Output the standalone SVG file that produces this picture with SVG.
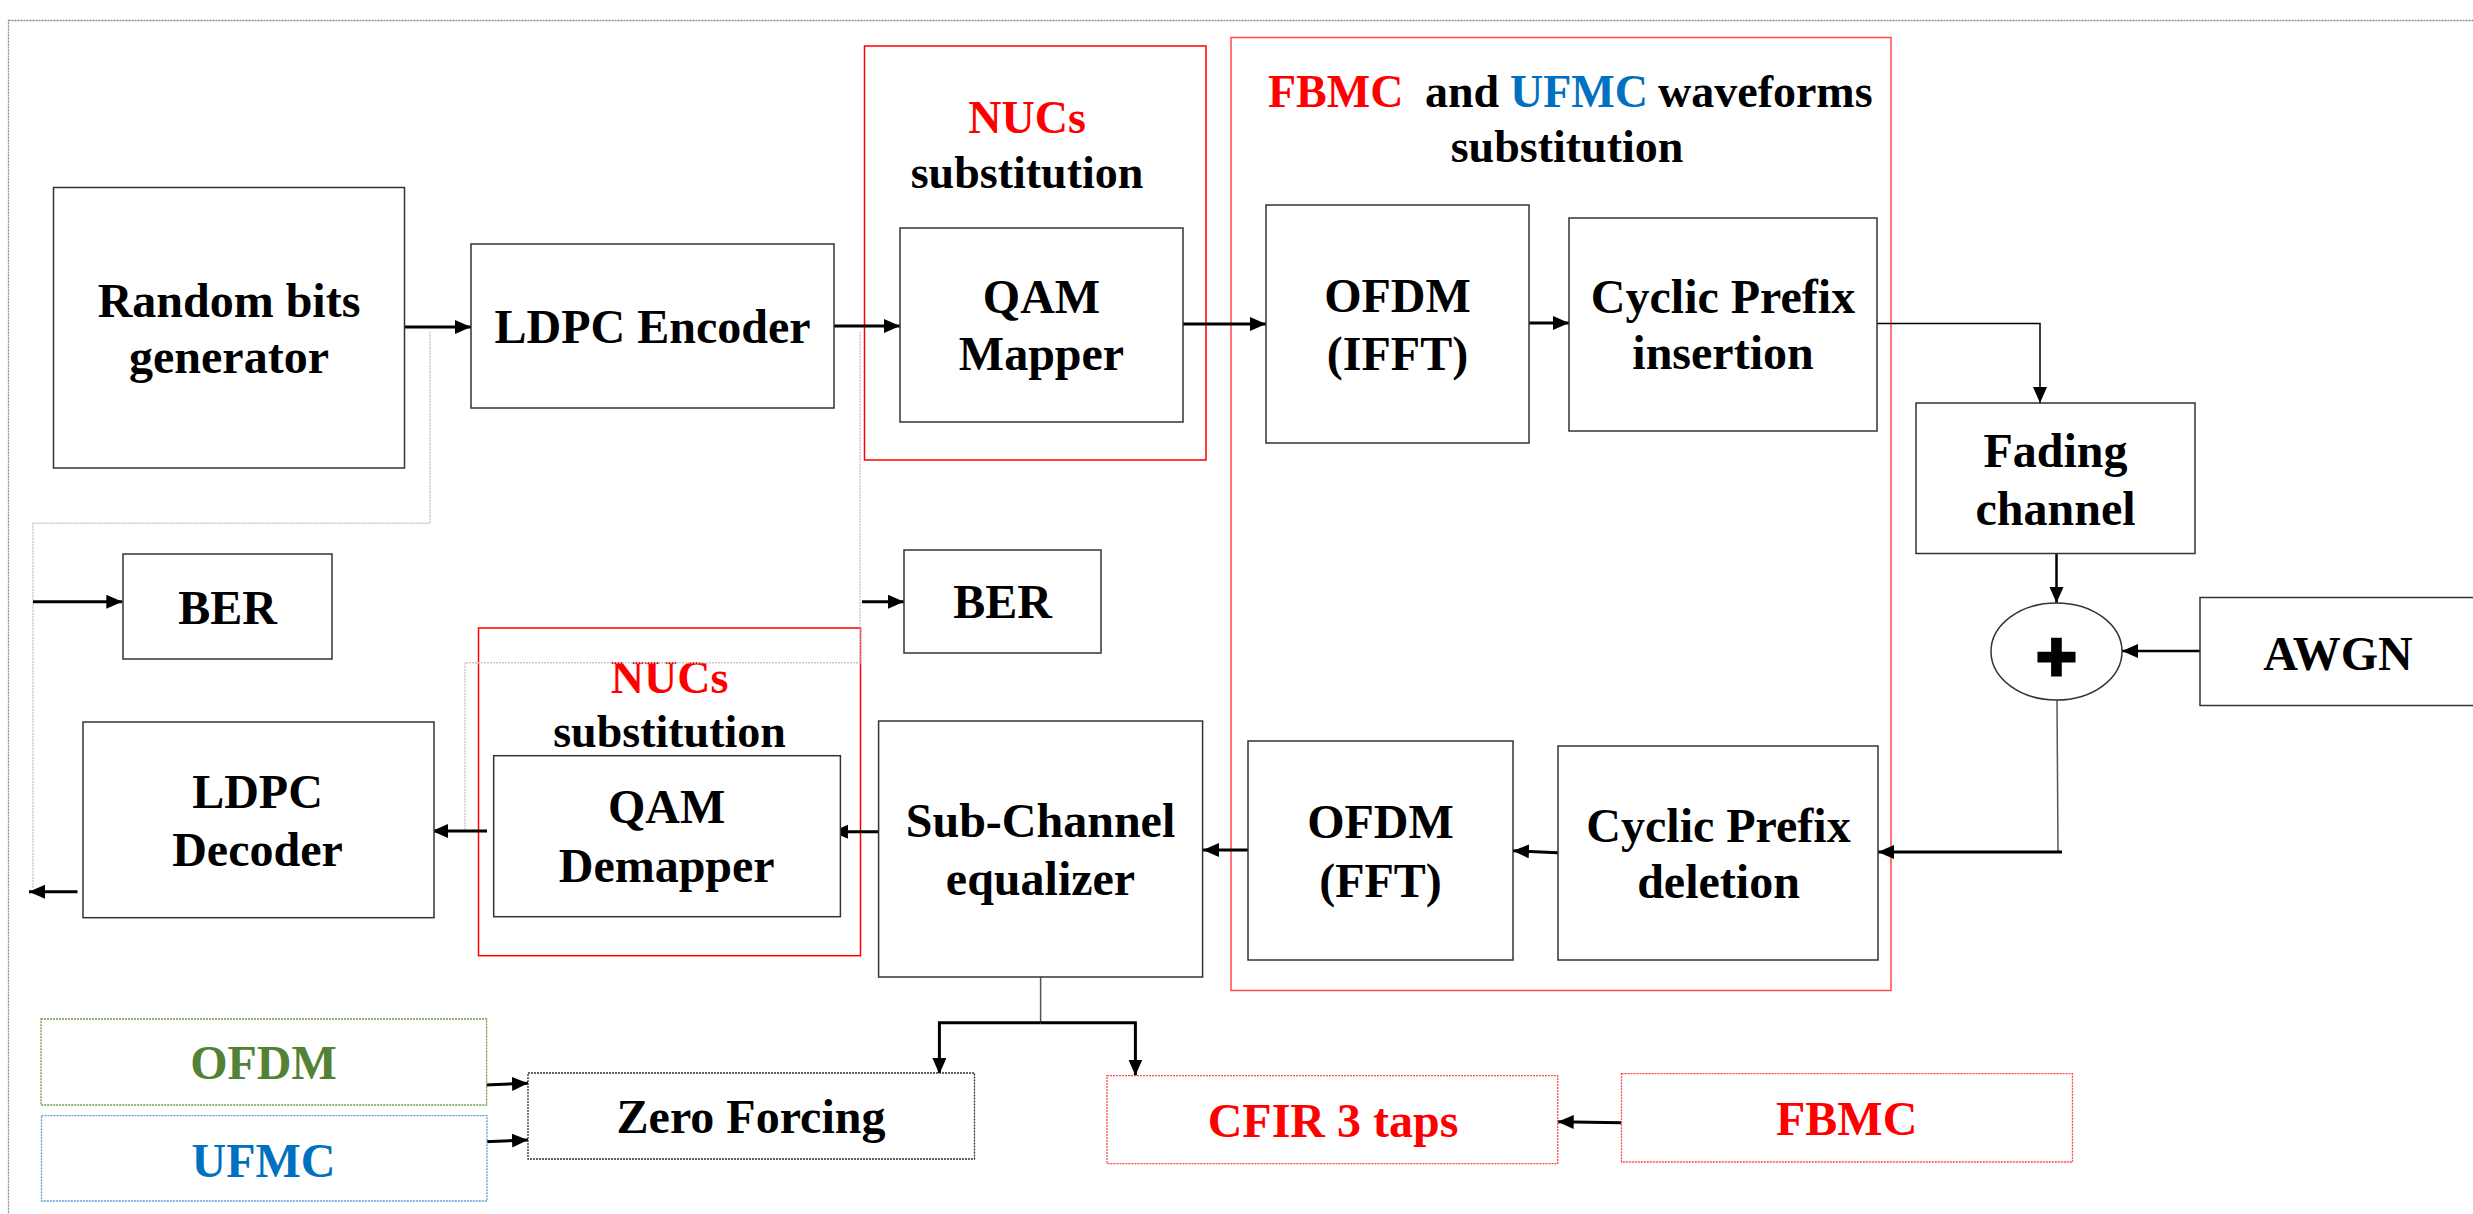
<svg xmlns="http://www.w3.org/2000/svg" width="2473" height="1214" viewBox="0 0 2473 1214">
  <defs>
    <style>
      .box { fill: #ffffff; stroke: #333333; stroke-width: 1.5; }
      .grp { fill: none; stroke: #ff0000; stroke-width: 1.5; }
      .grp-light { fill: none; stroke: #ff4a4a; stroke-width: 1.5; }
      .dot { fill: #ffffff; stroke-width: 1.3; stroke-dasharray: 2 1; }
      .lbl { font-family: "Liberation Serif", "Times New Roman", serif; font-weight: bold; font-size: 48px; text-anchor: middle; fill: #000000; }
      .head { font-family: "Liberation Serif", "Times New Roman", serif; font-weight: bold; font-size: 46px; fill: #000000; }
      .mid { text-anchor: middle; }
      .red { fill: #ff0000; }
      .blue { fill: #0070c0; }
      .green { fill: #538135; }
      .wire { fill: none; stroke: #000000; stroke-width: 3; marker-end: url(#head); }
      .thin { fill: none; stroke: #000000; stroke-width: 1.5; }
      .feed { fill: none; stroke: #c9c9c9; stroke-width: 1.5; stroke-dasharray: 2 1; }
    </style>
    <marker id="head" markerUnits="userSpaceOnUse" markerWidth="17" markerHeight="15" refX="16" refY="7" orient="auto">
      <path d="M0,0 L16,7 L0,14 z" fill="#000000"/>
    </marker>
  </defs>

  <rect width="2473" height="1214" fill="#ffffff"/>

  <!-- page frame -->
  <rect x="8.5" y="20.5" width="3000" height="2000" fill="none" stroke="#8a8a8a" stroke-width="1.3" stroke-dasharray="2 1"/>

  <!-- substitution frames -->
  <g id="nucs-tx">
    <rect class="grp" x="864.5" y="46" width="341.5" height="414"/>
    <text class="head mid red" x="1027" y="133">NUCs</text>
    <text class="head mid" x="1027" y="188">substitution</text>
  </g>
  <g id="waveforms">
    <rect class="grp-light" x="1231" y="37.5" width="660" height="953"/>
    <text class="head"><tspan class="red" x="1268" y="107">FBMC</tspan><tspan x="1425" y="107">and</tspan><tspan class="blue" x="1510" y="107">UFMC</tspan><tspan x="1658" y="107">waveforms</tspan></text>
    <text class="head mid" x="1567" y="162">substitution</text>
  </g>
  <g id="nucs-rx">
    <rect class="grp" x="478.5" y="628" width="382" height="327.7"/>
    <text class="head mid red" x="669.5" y="693">NUCs</text>
    <text class="head mid" x="669.5" y="747">substitution</text>
  </g>

  <!-- connectors -->
  <g id="connectors">
    <path class="feed" d="M430,331.7 V523.3 H33 V888"/>
    <path class="feed" d="M860,331.7 V662.7 H465 V830"/>

    <path class="wire" d="M404,327 H471"/>
    <path class="wire" d="M834,326 H900"/>
    <path class="wire" d="M1183,324 H1266"/>
    <path class="wire" d="M1529,323 H1569"/>
    <path class="thin" style="marker-end:url(#head)" d="M1877,323.5 H2040 V403"/>
    <path class="wire" style="stroke-width:2.5" d="M2056.5,554 V603"/>
    <path class="wire" style="stroke-width:2.5" d="M2200,651 H2122"/>
    <path class="thin" style="stroke:#555555" d="M2057,700 L2058,852"/>
    <path class="wire" d="M2062,852 H1878"/>
    <path class="wire" d="M1558,852.7 L1513,850.7"/>
    <path class="wire" d="M1248,850 H1203"/>
    <path class="wire" d="M888,831.7 H832"/>
    <path class="wire" d="M487,831 H432"/>
    <path class="wire" d="M77.5,891.7 H29"/>
    <path class="wire" d="M33,601.7 H122.3"/>
    <path class="wire" d="M862,601.7 H904"/>

    <path class="thin" style="stroke:#555555" d="M1040.6,977 V1022.7"/>
    <path class="wire" d="M1040.6,1022.7 H939.4 V1074"/>
    <path class="wire" d="M1040.6,1022.7 H1135.4 V1075.5"/>
    <path class="wire" d="M484.7,1085 L528,1083.3"/>
    <path class="wire" d="M484.7,1141.7 L528,1140"/>
    <path class="wire" d="M1621.5,1122.7 L1557.7,1121.7"/>
  </g>

  <!-- transmitter chain -->
  <g id="random-bits">
    <rect class="box" x="53.5" y="187.5" width="351" height="280.5"/>
    <text class="lbl" x="229" y="317">Random bits</text>
    <text class="lbl" x="229" y="373">generator</text>
  </g>
  <g id="ldpc-encoder">
    <rect class="box" x="471" y="244" width="363" height="164"/>
    <text class="lbl" x="652.5" y="343">LDPC Encoder</text>
  </g>
  <g id="qam-mapper">
    <rect class="box" x="900" y="228" width="283" height="194"/>
    <text class="lbl" x="1041.5" y="313">QAM</text>
    <text class="lbl" x="1041.5" y="370">Mapper</text>
  </g>
  <g id="ofdm-ifft">
    <rect class="box" x="1266" y="205" width="263" height="238"/>
    <text class="lbl" x="1397.5" y="312">OFDM</text>
    <text class="lbl" x="1397.5" y="370">(IFFT)</text>
  </g>
  <g id="cp-insertion">
    <rect class="box" x="1569" y="218" width="308" height="213"/>
    <text class="lbl" x="1723" y="313">Cyclic Prefix</text>
    <text class="lbl" x="1723" y="369">insertion</text>
  </g>

  <!-- channel -->
  <g id="fading-channel">
    <rect class="box" x="1916" y="403" width="279" height="150.5"/>
    <text class="lbl" x="2055.5" y="467">Fading</text>
    <text class="lbl" x="2055.5" y="524.5">channel</text>
  </g>
  <g id="adder">
    <ellipse cx="2056.5" cy="651.5" rx="65.5" ry="48.5" fill="#ffffff" stroke="#333333" stroke-width="1.5"/>
    <text x="2056.5" y="681" text-anchor="middle" font-family="Liberation Sans, Arial, sans-serif" font-weight="bold" font-size="70" fill="#000000" stroke="#000000" stroke-width="3">+</text>
  </g>
  <g id="awgn">
    <rect class="box" x="2200" y="597.5" width="320" height="108"/>
    <text class="lbl" x="2338" y="670">AWGN</text>
  </g>

  <!-- receiver chain -->
  <g id="cp-deletion">
    <rect class="box" x="1558" y="746" width="320" height="214"/>
    <text class="lbl" x="1718.5" y="842">Cyclic Prefix</text>
    <text class="lbl" x="1718.5" y="898">deletion</text>
  </g>
  <g id="ofdm-fft">
    <rect class="box" x="1248" y="741" width="265" height="219"/>
    <text class="lbl" x="1380.5" y="838">OFDM</text>
    <text class="lbl" x="1380.5" y="897">(FFT)</text>
  </g>
  <g id="equalizer">
    <rect class="box" x="878.6" y="721" width="324" height="256"/>
    <text class="lbl" x="1040.5" y="837">Sub-Channel</text>
    <text class="lbl" x="1040.5" y="895">equalizer</text>
  </g>
  <g id="qam-demapper">
    <rect class="box" x="493.7" y="755.7" width="346.7" height="161"/>
    <text class="lbl" x="666.7" y="823">QAM</text>
    <text class="lbl" x="666.7" y="881.7">Demapper</text>
  </g>
  <g id="ldpc-decoder">
    <rect class="box" x="83" y="722" width="351" height="195.7"/>
    <text class="lbl" x="257.5" y="808">LDPC</text>
    <text class="lbl" x="257.5" y="866">Decoder</text>
  </g>
  <g id="ber-1">
    <rect class="box" x="123" y="554" width="209" height="105"/>
    <text class="lbl" x="227.5" y="624">BER</text>
  </g>
  <g id="ber-2">
    <rect class="box" x="904" y="550" width="197" height="103"/>
    <text class="lbl" x="1002.5" y="618">BER</text>
  </g>

  <!-- equalizer options -->
  <g id="opt-ofdm">
    <rect class="dot" x="41" y="1019" width="445.6" height="86" stroke="#6a9a4a"/>
    <text class="lbl green" x="263.5" y="1079">OFDM</text>
  </g>
  <g id="opt-ufmc">
    <rect class="dot" x="41.5" y="1115.7" width="445.5" height="85.3" stroke="#5b9bd5"/>
    <text class="lbl blue" x="263.5" y="1176.7">UFMC</text>
  </g>
  <g id="zero-forcing">
    <rect class="dot" x="528" y="1073" width="446.5" height="86" stroke="#333333"/>
    <text class="lbl" x="751" y="1133">Zero Forcing</text>
  </g>
  <g id="cfir">
    <rect class="dot" x="1107" y="1075.7" width="450.7" height="88" stroke="#ff4a4a"/>
    <text class="lbl red" x="1333" y="1136.7">CFIR 3 taps</text>
  </g>
  <g id="opt-fbmc">
    <rect class="dot" x="1621.5" y="1073.7" width="451" height="88.3" stroke="#ff4a4a"/>
    <text class="lbl red" x="1846.7" y="1135">FBMC</text>
  </g>
</svg>
